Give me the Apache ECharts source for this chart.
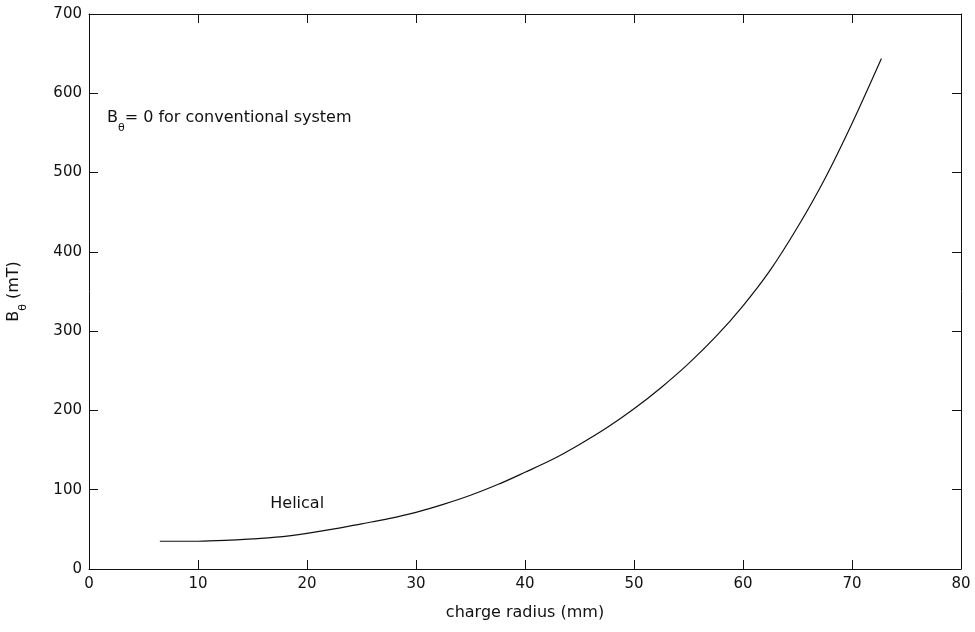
<!DOCTYPE html>
<html>
<head>
<meta charset="utf-8">
<script src="https://cdn.jsdelivr.net/npm/echarts@6/dist/echarts.min.js"></script>
<style>
  html, body { margin: 0; padding: 0; background: #fff; }
  #chart { width: 975px; height: 632px; }
</style>
</head>
<body>
<div id="chart"></div>
<script>
// charge radius (mm) vs B_theta (mT)
var radius = [6.5, 8, 10, 12.5, 15, 17.5, 20, 22.5, 25, 27.5, 30, 32.5, 35, 37.5, 40, 42.5, 45, 47.5, 50, 52.5, 55, 57.5, 60, 62.5, 65, 67.5, 70, 72.7];
var field = [35, 35, 35, 36, 38, 40.5, 45, 50.5, 57, 63.5, 71.5, 81.5, 93, 106.5, 122, 138, 157, 178, 202, 229, 259, 293, 332, 377, 431, 492, 562, 644];

var xTicks = { min: 0, max: 80, interval: 10 };
var yTicks = { min: 0, max: 700, interval: 100 };

// text notes, anchored in data coordinates
var notes = [
  { coord: [1.65, 564], text: '{b|B}{s|θ}{b|= 0 for conventional system}', align: 'left' },
  { coord: [19.1, 82], text: '{h|Helical}', align: 'center' }
];

var FONT = 'DejaVu Sans';
var ink = '#111';

// subscript: main text hangs from the top of the line, the θ sits on its bottom
var rich = {
  b: { fontFamily: FONT, fontSize: 16, color: ink, lineHeight: 23, verticalAlign: 'top' },
  s: { fontFamily: FONT, fontSize: 11, color: ink, lineHeight: 23, verticalAlign: 'bottom' },
  h: { fontFamily: FONT, fontSize: 16, color: ink, lineHeight: 18 }
};

var data = radius.map(function (r, i) { return [r, field[i]]; });

function axisBase(extra) {
  var a = {
    type: 'value',
    axisLine: { show: true, onZero: false, lineStyle: { color: ink, width: 1 } },
    axisTick: { show: true, inside: true, length: 9, lineStyle: { color: ink, width: 1 } },
    splitLine: { show: false },
    axisLabel: { show: false }
  };
  return Object.assign(a, extra);
}

var chart = echarts.init(document.getElementById('chart'));

var option = {
  animation: false,
  backgroundColor: '#fff',
  grid: { left: 89, right: 14, top: 14, bottom: 63, containLabel: false, outerBoundsMode: 'none' },
  xAxis: [
    axisBase(Object.assign({}, xTicks, {
      position: 'bottom',
      name: 'charge radius (mm)',
      nameLocation: 'middle',
      nameGap: 36,
      nameTextStyle: { fontFamily: FONT, fontSize: 16, color: ink },
      axisLabel: { show: true, margin: 8, fontFamily: FONT, fontSize: 15, color: ink }
    })),
    axisBase(Object.assign({}, xTicks, { position: 'top' }))
  ],
  yAxis: [
    axisBase(Object.assign({}, yTicks, {
      position: 'left',
      name: '{b|B}{s|θ}{b| (mT)}',
      nameLocation: 'middle',
      nameGap: 60,
      nameRotate: 90,
      nameTextStyle: { rich: rich },
      axisLabel: { show: true, margin: 7, fontFamily: FONT, fontSize: 15, color: ink }
    })),
    axisBase(Object.assign({}, yTicks, { position: 'right' }))
  ],
  series: [
    {
      type: 'line',
      data: data,
      smooth: 0.3,
      showSymbol: false,
      lineStyle: { color: ink, width: 1.2 },
      markPoint: {
        symbol: 'circle',
        symbolSize: 0,
        silent: true,
        data: notes.map(function (n) {
          return {
            coord: n.coord,
            label: {
              show: true,
              position: 'inside',
              align: n.align,
              verticalAlign: 'middle',
              formatter: n.text,
              rich: rich
            }
          };
        })
      }
    }
  ]
};

chart.setOption(option);
</script>
</body>
</html>
